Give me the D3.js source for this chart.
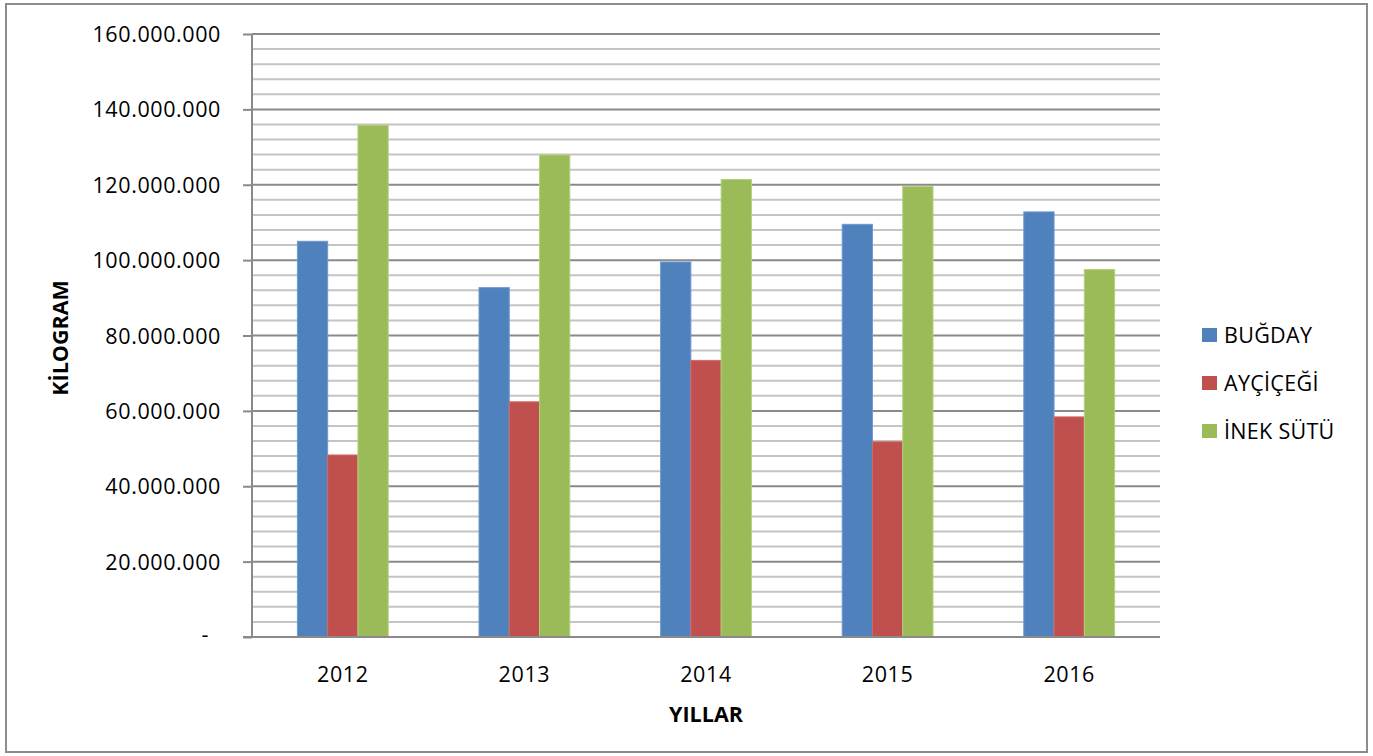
<!DOCTYPE html>
<html><head><meta charset="utf-8">
<script src="https://cdn.jsdelivr.net/npm/d3@7"></script>
<style>body{margin:0;background:#fff}svg{display:block}text{font-family:"Open Sans",sans-serif}</style>
</head><body><svg id="c" width="1373" height="756"></svg>
<script>
const years = ["2012","2013","2014","2015","2016"];
const seriesNames = ["BUĞDAY","AYÇİÇEĞİ","İNEK SÜTÜ"];
const bugday = [105000000, 92700000, 99500000, 109500000, 112800000];
const aycicegi = [48300000, 62400000, 73400000, 51800000, 58400000];
const inekSutu = [135800000, 127900000, 121400000, 119500000, 97500000];
const yTicks = [0,20000000,40000000,60000000,80000000,100000000,120000000,140000000,160000000];
const colors = ["#4F81BD","#C0504D","#9BBB59"];
const strokes = ["#6d9ad0","#d06a66","#b3d07a"];

const series = [bugday, aycicegi, inekSutu];
const svg = d3.select("#c");
const L=252, R=1160, T=34, B=637;
const FS = 21.5, LS = "0.6px";

svg.append("rect").attr("x",6).attr("y",4).attr("width",1361).attr("height",748)
  .attr("fill","#fff").attr("stroke","#8c8c8c").attr("stroke-width",2);

const y = d3.scaleLinear().domain([0,160000000]).range([B,T]);
const x0 = d3.scaleBand().domain(years).range([L,R]).paddingInner(0).paddingOuter(0);
const x1 = d3.scaleBand().domain(d3.range(3)).range([0,x0.bandwidth()]).paddingInner(0).paddingOuter(1.5);

// minor gridlines
const minor = d3.range(4000000,160000001,4000000).filter(v=>v%20000000!==0);
svg.append("g").selectAll("line").data(minor).join("line")
  .attr("x1",L).attr("x2",R).attr("y1",d=>y(d)).attr("y2",d=>y(d))
  .attr("stroke","#c4c4c4").attr("stroke-width",2);
// major gridlines
svg.append("g").selectAll("line").data(yTicks.filter(v=>v>0)).join("line")
  .attr("x1",L).attr("x2",R).attr("y1",d=>y(d)).attr("y2",d=>y(d))
  .attr("stroke","#8a8a8a").attr("stroke-width",2);

// y axis
const yAxis = d3.axisLeft(y).tickValues(yTicks).tickSize(9).tickPadding(22)
  .tickFormat(d=> d===0 ? "-" : d3.format(",")(d).replace(/,/g,"."));
const ga = svg.append("g").attr("transform",`translate(${L},0)`).call(yAxis);
ga.select(".domain").attr("stroke","#8a8a8a").attr("stroke-width",2).attr("d",`M0,${T}V${B}`);
ga.selectAll(".tick line").attr("stroke","#8a8a8a").attr("stroke-width",2);
ga.selectAll(".tick text").attr("font-size",FS).attr("fill","#000").attr("letter-spacing",LS)
  .attr("font-family","'Open Sans',sans-serif").attr("dy","0.35em");
ga.selectAll(".tick").filter(d=>d===0).select("text").attr("dx",-12).attr("dy","0.2em");

// bars
const g = svg.append("g");
years.forEach((yr,i)=>{
  series.forEach((s,j)=>{
    g.append("rect")
      .attr("x",x0(yr)+x1(j)).attr("width",x1.bandwidth())
      .attr("y",y(s[i])).attr("height",B-y(s[i]))
      .attr("fill",colors[j]).attr("stroke",strokes[j]).attr("stroke-width",1);
  });
});

// x axis line
svg.append("line").attr("x1",243).attr("x2",R).attr("y1",B).attr("y2",B)
  .attr("stroke","#8a8a8a").attr("stroke-width",2);
svg.append("g").selectAll("text").data(years).join("text")
  .attr("x",d=>x0(d)+x0.bandwidth()/2).attr("y",682).attr("text-anchor","middle")
  .attr("font-size",FS).attr("letter-spacing",LS).attr("fill","#000").text(d=>d);

// axis titles
svg.append("text").attr("x",706).attr("y",722).attr("text-anchor","middle")
  .attr("font-size",FS).attr("font-weight","bold").text("YILLAR");
svg.append("text").attr("transform","translate(68,338) rotate(-90)").attr("text-anchor","middle")
  .attr("font-size",FS).attr("font-weight","bold").text("KİLOGRAM");

// legend
const lg = svg.append("g");
seriesNames.forEach((n,j)=>{
  const cy = 335 + j*48;
  lg.append("rect").attr("x",1202).attr("y",cy-7).attr("width",15).attr("height",14).attr("fill",colors[j]);
  lg.append("text").attr("x",1224).attr("y",cy).attr("dy","0.36em").attr("font-size",FS).attr("letter-spacing","0.3px").text(n);
});
</script></body></html>
